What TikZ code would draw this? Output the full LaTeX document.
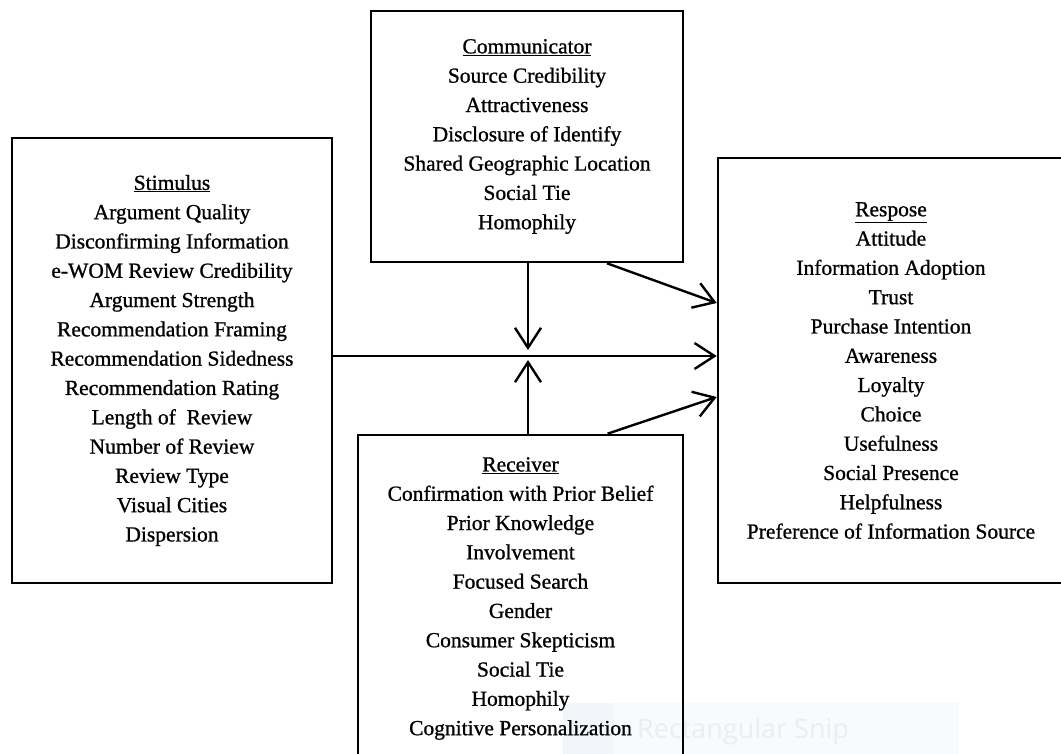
\documentclass[tikz,border=0pt]{standalone}
\usepackage{fontspec}
\setmainfont{Liberation Serif}
\newfontfamily\boxfont{Liberation Serif}[FakeBold=0.9]
\newfontfamily\snipfont{Open Sans}
\usetikzlibrary{arrows.meta}

\definecolor{snipbg}{HTML}{F8FAFD}
\definecolor{snipicon}{HTML}{F2F5FA}
\definecolor{sniptext}{HTML}{ECEDF0}

\tikzset{
  factorbox/.style={draw=black, line width=2.6pt, align=center,
    inner sep=0pt,
    font=\boxfont\fontsize{21.5}{29.3}\selectfont},
  link/.style={draw=black, line width=2.4pt,
    -{Straight Barb[length=20pt,width=26pt,line width=2.4pt]}}
}
\newcommand{\boxtitle}[1]{\underline{#1}}

\begin{document}
\begin{tikzpicture}[x=1pt,y=-1pt]
  \useasboundingbox (0,0) rectangle (1061,753);
  \clip (0,0) rectangle (1061,753);
  \fill[white] (0,0) rectangle (1061,753);

  % faint snipping-tool caption near the bottom edge
  \fill[snipbg] (563,703) rectangle (959,760);
  \fill[snipicon] (563,703) rectangle (614,760);
  \node[anchor=west, inner sep=0pt, text=sniptext,
        font=\snipfont\fontsize{27}{30}\selectfont] (snip) at (637,731) {Rectangular Snip};

  % the four factor groups
  \node[factorbox, minimum width=320pt, minimum height=445pt] (stim) at (172,360.5)
    {\boxtitle{Stimulus}\\ Argument Quality\\ Disconfirming Information\\
     e-WOM Review Credibility\\ Argument Strength\\ Recommendation Framing\\
     Recommendation Sidedness\\ Recommendation Rating\\ Length of~ Review\\
     Number of Review\\ Review Type\\ Visual Cities\\ Dispersion};

  \node[factorbox, minimum width=312pt, minimum height=251pt] (comm) at (527,136.5)
    {\boxtitle{Communicator}\\ Source Credibility\\ Attractiveness\\
     Disclosure of Identify\\ Shared Geographic Location\\ Social Tie\\ Homophily};

  \node[factorbox, minimum width=346pt, minimum height=425pt] (resp) at (891,370.5)
    {\boxtitle{Respose}\\ Attitude\\ Information Adoption\\ Trust\\
     Purchase Intention\\ Awareness\\ Loyalty\\ Choice\\ Usefulness\\
     Social Presence\\ Helpfulness\\ Preference of Information Source};

  \node[factorbox, minimum width=325pt, minimum height=327pt] (recv) at (520.5,598.5)
    {\boxtitle{Receiver}\\ Confirmation with Prior Belief\\ Prior Knowledge\\
     Involvement\\ Focused Search\\ Gender\\ Consumer Skepticism\\
     Social Tie\\ Homophily\\ Cognitive Personalization};

  % junction where the moderators meet the main path
  \coordinate (j) at (528,356);

  % connectors
  \draw[link] (stim.east |- j) -- (resp.west |- j);
  \draw[link] (comm.south -| j) -- ([yshift=6pt]j);
  \draw[link] (recv.north -| j) -- ([yshift=-4pt]j);
  \draw[link] ([xshift=80pt]comm.south) -- ([yshift=67.5pt]resp.west);
  \draw[link] ([xshift=87pt]recv.north) -- ([yshift=-26.5pt]resp.west);
\end{tikzpicture}
\end{document}
